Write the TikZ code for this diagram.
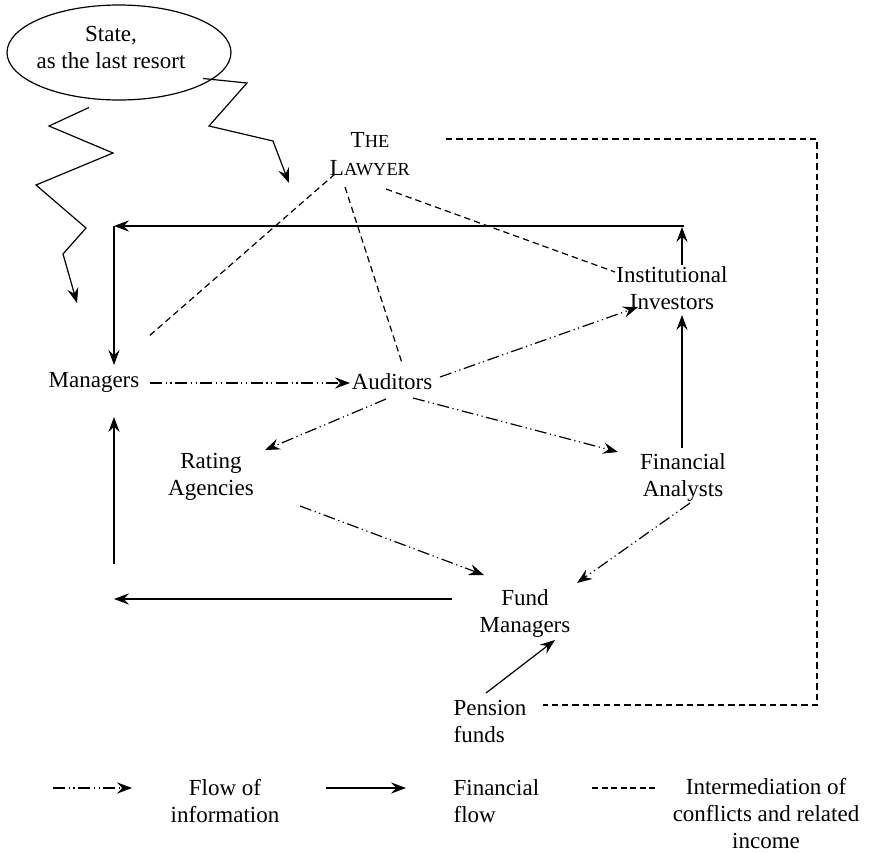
\documentclass[tikz,border=0pt]{standalone}
\usepackage{fontspec}
\setmainfont{Liberation Serif}
\usetikzlibrary{arrows.meta,shapes.geometric,calc}
\newcommand\myscx[1]{{\fontsize{9.2}{10}\selectfont #1}}
\begin{document}
\begin{tikzpicture}[x=0.5pt,y=-0.5pt,
  font=\fontsize{11.5}{13.5}\selectfont,
  line width=0.6pt,
  tip/.style={-{Stealth[length=7.5pt,width=5.6pt,inset=2.6pt]}},
  lbl/.style={align=center,inner sep=0pt},
  info/.style={tip,dash pattern=on 6pt off 1.8pt on 0.6pt off 1.8pt on 0.6pt off 1.8pt},
  fin/.style={tip},
  med/.style={dash pattern=on 3.2pt off 2pt}]
\useasboundingbox (0,0) rectangle (869,853);

% nodes
\node[ellipse,draw,minimum width=112pt,minimum height=47.5pt,inner sep=0pt] (state) at (119,52.5) {};
\node[lbl] (statetxt) at (111,47.5) {State,\\as the last resort};
\node[lbl,font=\fontsize{11.5}{14}\selectfont] (law) at (370,154) {T\myscx{HE}\\L\myscx{AWYER}};
\node[lbl] (mgr) at (94,382) {Managers};
\node[lbl] (aud) at (392,382) {Auditors};
\node[lbl] (inst) at (672,288) {Institutional\\Investors};
\node[lbl] (rat) at (211,477) {Rating\\Agencies};
\node[lbl] (fa) at (683,477) {Financial\\Analysts};
\node[lbl] (fm) at (525,613) {Fund\\Managers};
\node[lbl,align=left,anchor=west] (pen) at (453,721) {Pension\\funds};

% helper coordinates
\coordinate (c1) at (684,226);
\coordinate (c2) at (114,226);
\coordinate (c3) at (114,599);
\coordinate (c4) at (114,564);
\coordinate (d1) at (817,139);
\coordinate (d2) at (817,705);

% state zigzags
\draw[tip] ($(state)+(-30,55)$) -- (49,126) -- (113,153) -- (36,185) -- (86,228) -- (63,254) -- (77,303);
\draw[tip] ($(state)+(84,26)$) -- (247,83) -- (209,126) -- (273,141) -- (289,183);

% information flows
\draw[info] ($(mgr)+(56,1)$) -- ($(aud)+(-42,1)$);
\draw[info] ($(aud)+(48,-5)$) -- ($(inst)+(-34,19)$);
\draw[info] ($(aud)+(-6,17)$) -- ($(rat)+(54,-27)$);
\draw[info] ($(aud)+(21,16)$) -- ($(fa)+(-65,-25)$);
\draw[info] ($(rat)+(89,29)$) -- ($(fm)+(-41,-38)$);
\draw[info] ($(fa)+(7,26)$) -- ($(fm)+(52,-30)$);

% financial flows
\draw[fin] ($(fa)+(-1,-29)$) -- ($(inst)+(10,27)$);
\draw[fin] ($(inst)+(10,-23)$) -- ($(c1)+(-2,1)$);
\draw[fin] (c1) -- (c2);
\draw[fin] (c2) -- ($(mgr)+(20,-17)$);
\draw[fin] ($(fm)+(-73,-14)$) -- (c3);
\draw[fin] (c4) -- ($(mgr)+(20,35)$);
\draw[fin] ($(pen.west)+(33,-28)$) -- ($(fm)+(30,27)$);

% intermediation
\draw[med] ($(law)+(-35,20)$) -- ($(mgr)+(54,-45)$);
\draw[med] ($(law)+(-25,33)$) -- ($(aud)+(10,-19)$);
\draw[med] ($(law)+(16,35)$) -- ($(inst)+(-57,-16)$);
\draw[med] ($(law)+(76,-15)$) -- (d1) -- (d2) -- ($(pen.west)+(90,-16)$);

% legend
\coordinate (l1a) at (53,788); \coordinate (l1b) at (132,788);
\coordinate (l2a) at (326,788); \coordinate (l2b) at (406,788);
\coordinate (l3a) at (592,788); \coordinate (l3b) at (656,788);
\draw[info] (l1a) -- (l1b);
\draw[fin] (l2a) -- (l2b);
\draw[dash pattern=on 3pt off 1.75pt] (l3a) -- (l3b);
\node[lbl] (lt1) at (225,801) {Flow of\\information};
\node[lbl,align=left,anchor=west] (lt2) at (453,801) {Financial\\flow};
\node[lbl] (lt3) at (766,814) {Intermediation of\\conflicts and related\\income};
\end{tikzpicture}
\end{document}
